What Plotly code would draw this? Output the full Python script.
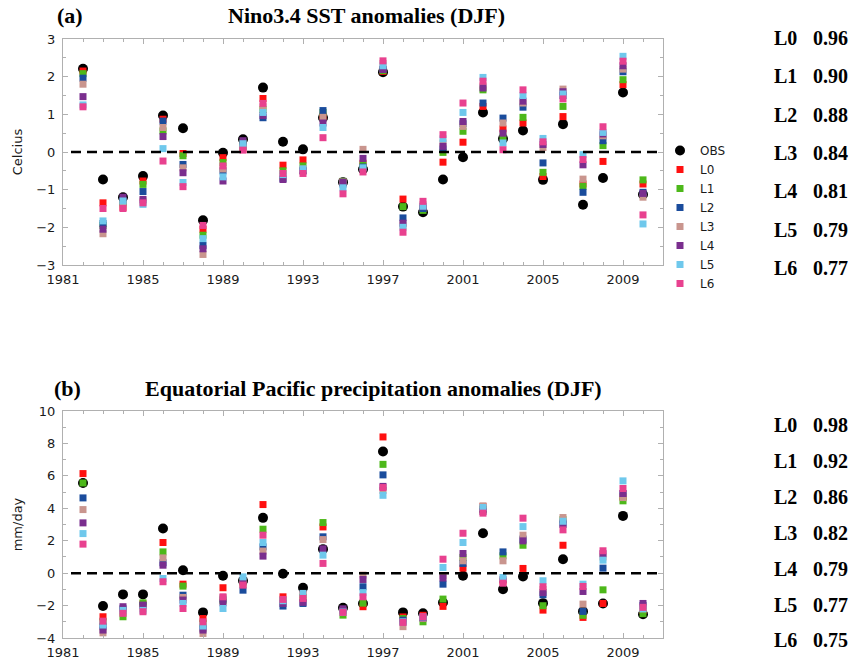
import plotly.graph_objects as go

W, H = 849, 661

years = list(range(1982, 2011))
members = ["L0", "L1", "L2", "L3", "L4", "L5", "L6"]
colors = ["#ff1010", "#4db81a", "#1a4c9c", "#c9958e", "#7a2e8e", "#6fc8ec", "#e8418f"]

# ---- (a) Nino3.4 SST anomalies (DJF), Celcius ----
sst_obs = [2.21, -0.73, -1.2, -0.64, 0.97, 0.63, -1.81, -0.02, 0.34, 1.71, 0.27, 0.07, 0.91, -0.8,
           -0.46, 2.12, -1.45, -1.6, -0.73, -0.14, 1.05, 0.35, 0.57, -0.74, 0.74, -1.4, -0.69, 1.58, -1.13]
sst_L0 = [2.15, -1.35, -1.47, -0.77, 0.87, -0.04, -2.05, -0.15, 0.07, 1.42, -0.35, -0.21, 0.95, -0.8,
          -0.3, 2.14, -1.25, -1.5, -0.27, 0.26, 1.21, 0.61, 0.77, -0.65, 0.94, -0.85, -0.25, 1.79, -0.85]
sst_L1 = [2.08, -1.95, -1.35, -0.86, 0.56, -0.1, -2.21, -0.28, 0.25, 1.13, -0.5, -0.37, 1.05, -0.78,
          -0.35, 2.16, -1.45, -1.55, -0.01, 0.55, 1.65, 0.4, 0.92, -0.54, 1.21, -0.91, 0.17, 1.92, -0.74]
sst_L2 = [1.96, -1.9, -1.3, -1.05, 0.82, -0.33, -2.48, -0.5, 0.15, 0.91, -0.7, -0.5, 1.1, -0.85,
          -0.4, 2.2, -1.75, -1.5, 0.08, 0.75, 1.3, 0.9, 1.19, -0.29, 1.5, -1.07, 0.3, 2.13, -1.07]
sst_L3 = [1.8, -2.17, -1.4, -1.3, 0.65, -0.42, -2.72, -0.45, 0.1, 1.2, -0.65, -0.45, 0.92, -0.8,
          0.07, 2.35, -1.95, -1.4, 0.24, 0.68, 1.75, 0.77, 1.3, 0.12, 1.67, -0.72, 0.43, 2.2, -1.2]
sst_L4 = [1.47, -2.05, -1.2, -1.26, 0.41, -0.55, -2.57, -0.77, 0.3, 0.97, -0.73, -0.5, 0.77, -0.8,
          -0.17, 2.19, -1.89, -1.45, 0.15, 0.81, 1.7, 0.5, 1.35, 0.2, 1.6, -0.34, 0.48, 2.29, -1.1]
sst_L5 = [1.25, -1.83, -1.3, -1.39, 0.09, -0.81, -2.3, -0.66, 0.22, 1.05, -0.6, -0.45, 0.65, -0.95,
          -0.42, 2.29, -2.0, -1.44, 0.35, 1.05, 1.98, 0.24, 1.5, 0.36, 1.54, -0.07, 0.52, 2.54, -1.91]
sst_L6 = [1.2, -1.5, -1.5, -1.35, -0.24, -0.92, -1.95, -0.37, 0.05, 1.29, -0.57, -0.57, 0.38, -1.11,
          -0.53, 2.42, -2.13, -1.31, 0.46, 1.3, 1.88, 0.06, 1.65, 0.27, 1.41, -0.2, 0.67, 2.41, -1.67]

# ---- (b) Equatorial Pacific precipitation anomalies (DJF), mm/day ----
pr_obs = [5.56, -2.03, -1.31, -1.31, 2.75, 0.18, -2.42, -0.16, -0.47, 3.41, -0.04, -0.9, 1.48, -2.14,
          -1.87, 7.5, -2.42, -2.48, -1.81, -0.16, 2.46, -0.99, -0.21, -1.85, 0.86, -2.36, -1.87, 3.53, -2.53]
pr_L0 = [6.14, -2.69, -2.3, -1.9, 1.89, -0.68, -2.8, -0.9, -0.6, 4.23, -1.46, -1.3, 2.85, -2.3,
         -2.07, 8.4, -2.7, -2.6, -2.05, 0.31, 4.1, -0.5, 0.29, -2.28, 1.72, -2.73, -1.87, 4.7, -2.3]
pr_L1 = [5.56, -3.0, -2.69, -1.83, 1.31, -0.8, -3.1, -1.7, -0.5, 2.71, -1.7, -1.5, 3.12, -2.59,
         -1.85, 6.71, -2.8, -3.0, -1.6, 0.97, 3.9, 1.07, 1.72, -2.01, 3.3, -2.6, -1.03, 4.46, -2.5]
pr_L2 = [4.64, -3.3, -2.2, -2.0, 0.64, -1.36, -3.4, -1.6, -1.05, 1.62, -2.03, -1.87, 2.24, -2.3,
         -0.84, 6.06, -2.9, -2.75, -0.68, 0.6, 3.95, 1.31, 2.1, -1.33, 3.0, -2.36, 0.31, 4.9, -2.0]
pr_L3 = [3.92, -3.68, -2.4, -2.2, 0.94, -1.5, -3.72, -1.5, -0.7, 1.36, -1.7, -1.6, 2.07, -2.4,
         -0.12, 5.1, -3.3, -2.8, -0.16, 0.76, 4.15, 0.76, 2.34, -1.0, 3.43, -1.91, 1.0, 4.66, -2.2]
pr_L4 = [3.1, -3.51, -2.07, -1.97, 0.49, -1.66, -3.51, -1.83, -0.47, 1.05, -1.87, -1.8, 1.5, -2.2,
         -0.39, 5.35, -3.0, -2.75, -0.3, 1.21, 3.8, -0.4, 1.99, -1.2, 3.08, -1.13, 1.2, 4.91, -1.87]
pr_L5 = [2.44, -3.2, -2.3, -2.3, -0.33, -1.87, -3.26, -2.18, -0.23, 1.89, -1.7, -1.25, 1.11, -2.4,
         -1.2, 4.8, -3.0, -2.7, 0.35, 1.89, 4.05, -0.27, 2.87, -0.47, 3.2, -0.68, 0.8, 5.69, -2.2]
pr_L6 = [1.79, -2.96, -2.48, -2.38, -0.53, -2.18, -3.0, -1.46, -0.74, 2.34, -1.62, -1.56, 0.6, -2.42,
         -1.46, 5.28, -3.04, -2.69, 0.86, 2.46, 3.7, -0.62, 3.39, -0.84, 2.67, -0.82, 1.38, 5.22, -2.11]

sst_members = [sst_L0, sst_L1, sst_L2, sst_L3, sst_L4, sst_L5, sst_L6]
pr_members = [pr_L0, pr_L1, pr_L2, pr_L3, pr_L4, pr_L5, pr_L6]

# correlation of each member with OBS
sst_corr = ["0.96", "0.90", "0.88", "0.84", "0.81", "0.79", "0.77"]
pr_corr = ["0.98", "0.92", "0.86", "0.82", "0.79", "0.77", "0.75"]

fig = go.Figure()

def add_panel(obs, mems, xa, ya, show):
    fig.add_trace(go.Scatter(
        x=years, y=obs, mode="markers", name="OBS", xaxis=xa, yaxis=ya, showlegend=show,
        marker=dict(symbol="circle", size=10, color="black")))
    for name, vals, c in zip(members, mems, colors):
        fig.add_trace(go.Scatter(
            x=years, y=vals, mode="markers", name=name, xaxis=xa, yaxis=ya, showlegend=show,
            marker=dict(symbol="square", size=7, color=c)))

add_panel(sst_obs, sst_members, "x", "y", True)
add_panel(pr_obs, pr_members, "x2", "y2", False)

def py(px):
    return 1 - px / H

def px_x(px):
    return px / W

x_dom = [px_x(63), px_x(663)]
tickfont = dict(family="DejaVu Sans", size=13, color="#1a1a1a")
frame = "#b0b0b0"

xcommon = dict(
    range=[1981, 2011], tick0=1981, dtick=4, ticks="inside", ticklen=5,
    tickcolor=frame, showline=True, linecolor=frame, linewidth=1, mirror="ticks",
    showgrid=False, zeroline=False, tickfont=tickfont, ticklabelstandoff=2,
    minor=dict(dtick=1, ticks="inside", ticklen=3, tickcolor=frame, showgrid=False),
    automargin=False,
)
ycommon = dict(
    ticks="inside", ticklen=5, tickcolor=frame, showline=True, linecolor=frame, linewidth=1,
    mirror="ticks", showgrid=False, zeroline=False, tickfont=tickfont, automargin=False,
    ticklabelstandoff=4,
)

fig.update_layout(
    width=W, height=H, margin=dict(l=0, r=0, t=0, b=0),
    paper_bgcolor="white", plot_bgcolor="white",
    xaxis=dict(domain=x_dom, anchor="y", **xcommon),
    yaxis=dict(domain=[py(265), py(39)], anchor="x", range=[-3, 3], dtick=1,
               minor=dict(dtick=0.5, ticks="inside", ticklen=3, tickcolor=frame, showgrid=False),
               title=dict(text="Celcius", font=dict(family="DejaVu Sans", size=13, color="#1a1a1a"),
                          standoff=10),
               **ycommon),
    xaxis2=dict(domain=x_dom, anchor="y2", **xcommon),
    yaxis2=dict(domain=[py(638), py(411)], anchor="x2", range=[-4, 10], dtick=2,
                minor=dict(dtick=1, ticks="inside", ticklen=3, tickcolor=frame, showgrid=False),
                title=dict(text="mm/day", font=dict(family="DejaVu Sans", size=13, color="#1a1a1a"),
                           standoff=10),
                **ycommon),
    legend=dict(x=px_x(660), y=py(136), xanchor="left", yanchor="top",
                font=dict(family="DejaVu Sans", size=12, color="#1a1a1a"),
                bgcolor="rgba(0,0,0,0)", tracegroupgap=0, itemwidth=30),
    showlegend=True,
)

# zero reference lines
for xr, yr in (("x", "y"), ("x2", "y2")):
    fig.add_shape(type="line", xref=xr, yref=yr, x0=1981.4, x1=2011, y0=0, y1=0,
                  line=dict(color="black", width=2.5, dash="10px,6px"))

title_font = dict(family="Liberation Serif", size=22, color="black")

def label(text, x, y, anchor="left", font=title_font):
    fig.add_annotation(text=text, x=px_x(x), y=py(y), xref="paper", yref="paper",
                       xanchor=anchor, yanchor="middle", showarrow=False, font=font)

label("<b>(a)</b>", 55, 15)
label("<b>Nino3.4 SST anomalies (DJF)</b>", 366, 15, "center")
label("<b>(b)</b>", 52, 388)
label("<b>Equatorial Pacific precipitation anomalies (DJF)</b>", 373, 388, "center")

corr_font = dict(family="Liberation Serif", size=20, color="black")
for i, (m, ca, cb) in enumerate(zip(members, sst_corr, pr_corr)):
    ya = 38 + i * 38.3
    yb = 425 + i * 35.9
    label(f"<b>{m}</b>", 772, ya, font=corr_font)
    label(f"<b>{ca}</b>", 811, ya, font=corr_font)
    label(f"<b>{m}</b>", 772, yb, font=corr_font)
    label(f"<b>{cb}</b>", 811, yb, font=corr_font)

fig.write_html("out.html")
